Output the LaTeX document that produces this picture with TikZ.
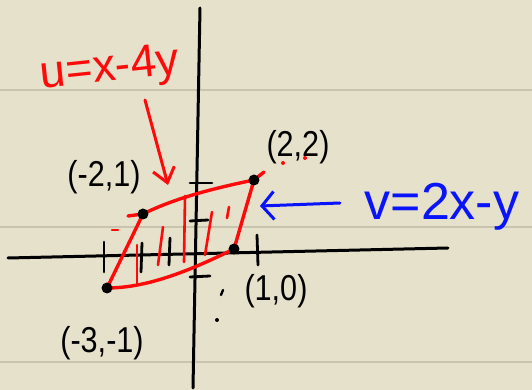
\documentclass[tikz,border=0pt]{standalone}
\usepackage{fontspec}
\setmainfont{Liberation Sans}
\usetikzlibrary{arrows.meta}
\definecolor{paper}{RGB}{229,225,202}
\definecolor{ruling}{RGB}{200,196,176}
\definecolor{penred}{RGB}{255,10,10}
\definecolor{penblue}{RGB}{10,20,250}
\begin{document}
\begin{tikzpicture}[x=0.5pt,y=-0.5pt,line cap=round,line join=round,
  axis/.style={black,line width=1.5pt},
  tickmark/.style={black,line width=1.4pt},
  edge/.style={penred,line width=1.7pt},
  hatch/.style={penred,line width=1.3pt},
  dot/.style={circle,fill=black,inner sep=0pt,minimum size=5.5pt},
  lbl/.style={black,font=\fontsize{18}{18}\selectfont,inner sep=0pt,xscale=0.85},
  redarrow/.style={penred,line width=1.5pt,-{Straight Barb[length=7pt,width=11pt,line width=1.5pt]}},
  bluearrow/.style={penblue,line width=1.5pt,-{Straight Barb[length=6pt,width=14pt,line width=1.5pt]}},
  speck/.style={circle,inner sep=0pt,minimum size=2pt}]
\fill[paper] (0,0) rectangle (532,390);
\useasboundingbox (0,0) rectangle (532,390);
\foreach \yy in {90,227,362} \draw[ruling,line width=1pt] (0,\yy) -- (532,\yy);

% axes
\coordinate (ytop) at (200,8);
\coordinate (ybot) at (193,388);
\coordinate (xl) at (8,258);
\coordinate (xr) at (448,248);
\draw[axis] (ytop) -- (ybot);
\draw[axis] (xl) -- (xr);

% ticks
\draw[tickmark] (104,242) -- (104,272);
\draw[tickmark] (142,243) -- (141,272);
\draw[tickmark] (170,238) -- (169,265);
\draw[tickmark] (257,235) -- (258,265);
\draw[tickmark] (190,183) -- (212,183);
\draw[tickmark] (190,221) -- (208,220);
\draw[tickmark] (190,277) -- (210,276);

% corner points
\coordinate (A) at (107,288);
\coordinate (B) at (143,214);
\coordinate (C) at (254,180);
\coordinate (D) at (234,249);
\coordinate (Bl) at (128,216);
\coordinate (Cr) at (264,172);

% hatching
\draw[hatch] (137,245) -- (137,285);
\draw[hatch] (163,227) -- (158,265);
\draw[hatch] (185,196) -- (184,262);
\draw[hatch] (212,212) -- (205,255);
\draw[hatch] (229,207) -- (227,218);
\draw[hatch] (112,230) -- (118,230);

% parallelogram
\draw[edge] (A) -- (B);
\draw[edge] (Bl) -- (B) .. controls (175,198) and (215,188) .. (C) -- (Cr);
\draw[edge] (A) .. controls (150,288) and (195,268) .. (D);
\draw[edge] (D) -- (C);

\node[dot] (pA) at (A) {};
\node[dot] (pB) at (B) {};
\node[dot] (pC) at (C) {};
\node[dot] (pD) at (D) {};

% labels
\node[lbl] (lC) at (298,147) {(2,2)};
\node[lbl] (lB) at (104,177) {(-2,1)};
\node[lbl] (lA) at (102,343) {(-3,-1)};
\node[lbl] (lD) at (276,291) {(1,0)};

\node[speck,fill=penred] (s1) at (283,163) {};
\node[speck,fill=penred] (s2) at (305,158) {};
\draw[black,line width=1.2pt] (223,290) -- (221,295);
\node[speck,fill=black] (s3) at (217,320) {};

% u label and arrow
\node[penred,font=\fontsize{23}{23}\selectfont,rotate=6,inner sep=0pt] (ulab) at (110,70) {u=x-4y};
\coordinate (ua) at (145,100);
\coordinate (ub) at (168,185);
\draw[redarrow] (ua) -- (ub);

% v label and arrow
\node[penblue,font=\fontsize{26}{26}\selectfont,inner sep=0pt] (vlab) at (442,207) {v=2x-y};
\coordinate (va) at (340,203);
\coordinate (vb) at (260,206);
\draw[bluearrow] (va) -- (vb);
\end{tikzpicture}
\end{document}
